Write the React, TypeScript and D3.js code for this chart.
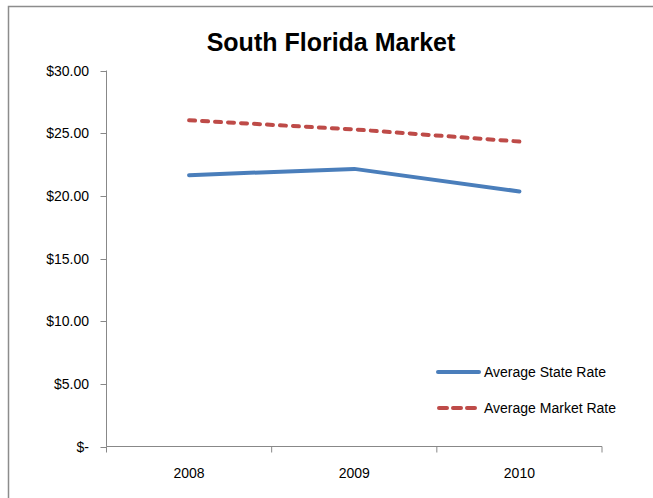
import React from "react";
import * as d3 from "d3";

const categories = ["2008", "2009", "2010"];
const stateRate = [21.65, 22.15, 20.35];
const marketRate = [26.03, 25.3, 24.33];
const yTicks = [0, 5, 10, 15, 20, 25, 30];
const seriesNames = ["Average State Rate", "Average Market Rate"];

const W = 653;
const H = 498;
const FONT = "'Liberation Sans', Arial, sans-serif";

export default function App() {
  const x0 = 106.5, x1 = 602;
  const yTop = 70.5, yBot = 446.5;
  const xBand = d3.scaleBand<string>().domain(categories).range([x0, x1]);
  const y = d3.scaleLinear().domain([0, 30]).range([yBot, yTop]);
  const line = d3
    .line<number>()
    .x((_, i) => (xBand(categories[i]) as number) + xBand.bandwidth() / 2)
    .y((d) => y(d));
  const fmt = (v: number) => (v === 0 ? "$-" : "$" + d3.format(".2f")(v));
  const bounds = [...categories.map((c) => xBand(c) as number), x1];
  const blue = "#4a7ebb";
  const red = "#be4b48";
  return (
    <svg width={W} height={H} style={{ position: "absolute", left: 0, top: 0 }} fontFamily={FONT}>
      <rect x={0} y={0} width={W} height={H} fill="#fff" />
      <path d={`M8.5,${H} V6.5 H${W}`} fill="none" stroke="#8c8c8c" strokeWidth={1.5} />
      <text x={331} y={51} textAnchor="middle" fontSize={25} fontWeight="bold" fill="#000">
        South Florida Market
      </text>
      {/* y axis */}
      <line x1={x0} x2={x0} y1={yTop} y2={yBot} stroke="#888" strokeWidth={1} />
      {yTicks.map((t) => (
        <g key={t}>
          <line x1={x0 - 6} x2={x0} y1={Math.round(y(t)) + 0.5} y2={Math.round(y(t)) + 0.5} stroke="#888" />
          <text x={89} y={y(t) + 5} textAnchor="end" fontSize={14} fill="#000">
            {fmt(t)}
          </text>
        </g>
      ))}
      {/* x axis */}
      <line x1={x0} x2={x1} y1={yBot} y2={yBot} stroke="#888" strokeWidth={1} />
      {bounds.map((b, i) => (
        <line key={i} x1={b} x2={b} y1={yBot} y2={yBot + 6} stroke="#888" />
      ))}
      {categories.map((c) => (
        <text
          key={c}
          x={(xBand(c) as number) + xBand.bandwidth() / 2}
          y={478}
          textAnchor="middle"
          fontSize={14}
          fill="#000"
        >
          {c}
        </text>
      ))}
      {/* series */}
      <path d={line(stateRate) || ""} fill="none" stroke={blue} strokeWidth={4} strokeLinejoin="round" strokeLinecap="round" />
      <path
        d={line(marketRate) || ""}
        fill="none"
        stroke={red}
        strokeWidth={4}
        strokeDasharray="6 7"
        strokeLinecap="round"
      />
      {/* legend */}
      <line x1={438} x2={479} y1={372} y2={372} stroke={blue} strokeWidth={4} strokeLinecap="round" />
      <text x={484} y={377} fontSize={14} fill="#000">{seriesNames[0]}</text>
      <line x1={439} x2={477} y1={408} y2={408} stroke={red} strokeWidth={4} strokeDasharray="8 6" strokeLinecap="round" />
      <text x={484} y={413} fontSize={14} fill="#000">{seriesNames[1]}</text>
    </svg>
  );
}
